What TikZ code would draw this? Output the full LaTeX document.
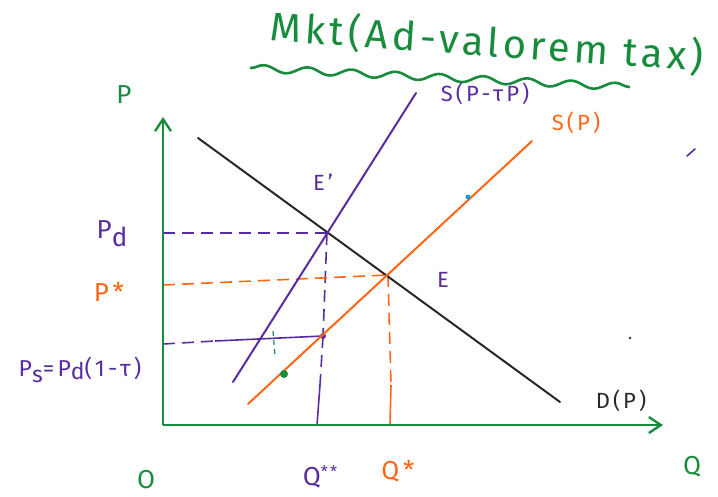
\documentclass[tikz,border=0pt]{standalone}
\usepackage{fontspec}
\setmainfont{Fira Sans}
\newfontfamily\titlefont{Fira Sans}[LetterSpace=10]
\newfontfamily\handfont{Fira Sans}[LetterSpace=14]
\usetikzlibrary{arrows.meta,decorations.pathmorphing}
\definecolor{hgreen}{RGB}{22,140,60}
\definecolor{hpurple}{RGB}{88,44,160}
\definecolor{horange}{RGB}{255,102,20}
\definecolor{hblack}{RGB}{40,40,40}
\definecolor{hblue}{RGB}{30,150,220}
\tikzset{
  axisline/.style={hgreen,line width=2.6pt,-{Straight Barb[length=12pt,width=16pt,line width=2.4pt]}},
  curve/.style={line width=2pt,line cap=round},
  guide/.style={line width=1.6pt,dash pattern=on 12pt off 7pt},
  lbl/.style={inner sep=0pt,font=\handfont\fontsize{22}{22}\selectfont},
  biglbl/.style={inner sep=0pt,font=\handfont\fontsize{26}{26}\selectfont},
}
\begin{document}
\begin{tikzpicture}[x=1pt,y=-1pt]
\useasboundingbox (0,0) rectangle (718,496);
% key points
\coordinate (O) at (163,425);
\coordinate (ytip) at (163,117);
\coordinate (xtip) at (663,425);
\coordinate (Dtop) at (198,138);
\coordinate (Dbot) at (560,402);
\coordinate (Stop) at (532,141);
\coordinate (Sbot) at (248,404);
\coordinate (Ttop) at (416,93);
\coordinate (Tbot) at (233,382);
\coordinate (Ep) at (327,233);
\coordinate (E) at (388,275);
\coordinate (PdA) at (163,233);
\coordinate (PsA) at (163,285);
\coordinate (PsubA) at (163,344);
\coordinate (PsEnd) at (323,336);
\coordinate (Qss) at (317,425);
\coordinate (Qssmid) at (320,385);
\coordinate (Qs) at (390,425);
\coordinate (Qsmid) at (391,385);
% title
\node[hgreen,inner sep=0pt,rotate=-4,font=\titlefont\fontsize{40}{40}\selectfont] (title) at (487,42) {Mkt(Ad-valorem tax)};
\draw[hgreen,line width=2.6pt,decorate,decoration={snake,amplitude=3.5pt,segment length=44pt}] (250,68) -- (630,87);
% guides
\draw[hpurple,guide] (PdA) -- (Ep);
\draw[hpurple,guide] (Ep) -- (PsEnd);
\draw[hpurple,guide] (PsEnd) -- (Qssmid);
\draw[hpurple,line width=1.6pt] (Qssmid) -- (Qss);
\draw[horange,guide] (PsA) -- (E);
\draw[horange,guide] (E) -- (Qsmid);
\draw[horange,line width=1.6pt] (Qsmid) -- (Qs);
\draw[hpurple,guide] (PsubA) -- (215,341);
\draw[hpurple,line width=1.6pt] (215,341) -- (PsEnd);
\fill[hpurple] (PsEnd) circle (3pt);
% curves
\draw[hblack,curve] (Dtop) -- (Dbot);
\draw[horange,curve] (Sbot) -- (Stop);
\draw[hpurple,curve] (Tbot) -- (Ttop);
% axes
\draw[axisline] (O) -- (ytip);
\draw[axisline] (O) -- (xtip);
% small marks
\fill[hgreen] (284,374) circle (4pt);
\draw[hgreen,line width=1.2pt,dash pattern=on 5pt off 4pt] (273,331) -- (275,356);
\fill[hblue] (468,197) circle (2.5pt);
\draw[hpurple,line width=1.6pt,line cap=round] (687,156) -- (695,149);
\fill[hblack] (630,338) circle (1.3pt);
% labels
\node[hgreen,biglbl] (Plab) at (124,95) {P};
\node[hgreen,biglbl] (Qlab) at (692,467) {Q};
\node[hgreen,biglbl] (Olab) at (146,480) {O};
\node[hpurple,biglbl] (Pdlab) at (112,234) {P\raisebox{-8pt}{d}};
\node[horange,biglbl] (Pstarlab) at (109,292) {P*};
\node[hpurple,inner sep=0pt,font=\handfont\fontsize{23}{23}\selectfont] (Pslab) at (80,370) {P\raisebox{-6pt}{s}=P\raisebox{-3pt}{d}(1-τ)};
\node[hpurple,lbl] (Eplab) at (323,182) {E’};
\node[hpurple,lbl] (Elab) at (443,280) {E};
\node[hpurple,lbl] (Tlab) at (485,94) {S(P-τP)};
\node[horange,lbl] (Slab) at (576,123) {S(P)};
\node[hblack,lbl] (Dlab) at (621,401) {D(P)};
\node[hpurple,biglbl] (Qsslab) at (320,477) {Q\raisebox{8pt}{\fontsize{16}{16}\selectfont **}};
\node[horange,biglbl] (Qslab) at (398,471) {Q*};
\end{tikzpicture}
\end{document}
